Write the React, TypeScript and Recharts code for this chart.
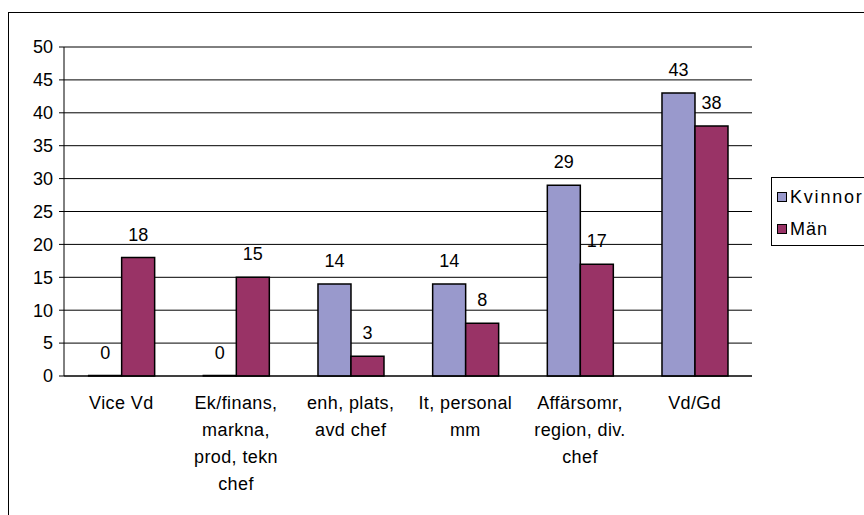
import { BarChart, Bar, XAxis, YAxis, CartesianGrid, LabelList } from 'recharts'

const categories = [
  'Vice Vd',
  'Ek/finans,\nmarkna,\nprod, tekn\nchef',
  'enh, plats,\navd chef',
  'It, personal\nmm',
  'Affärsomr,\nregion, div.\nchef',
  'Vd/Gd',
]
const kvinnor = [0, 0, 14, 14, 29, 43]
const man = [18, 15, 3, 8, 17, 38]
const yTicks = [0, 5, 10, 15, 20, 25, 30, 35, 40, 45, 50]
const seriesNames = ['Kvinnor', 'Män']
const COLORS = ['#9999cc', '#993366']

const data = categories.map((name, i) => ({ name, kvinnor: kvinnor[i], man: man[i] }))
const edgeTicks = categories.map((_, i) => i).concat(categories.length)

const FONT = '"Liberation Sans", Arial, sans-serif'
const FS = 18

const CategoryTick = ({ x, y, payload }: any) => {
  const lines = String(payload.value).split('\n')
  return (
    <text x={x} y={y} textAnchor="middle" fontFamily={FONT} fontSize={FS} fill="#000" letterSpacing={0.4}>
      {lines.map((l, i) => (
        <tspan key={i} x={x} dy={i === 0 ? 25 : 27}>{l}</tspan>
      ))}
    </text>
  )
}

// value label above the bar, also for zero-height bars
const ValueLabel = (props: any) => {
  const { x, y, width, height, value } = props
  if (value === undefined || value === null) return null
  const top = Math.min(Number(y), Number(y) + Number(height || 0))
  const yy = value === 0 ? top + Math.abs(Number(height || 0)) : top
  return (
    <text x={Number(x) + Number(width) / 2} y={yy - 17} textAnchor="middle" fontFamily={FONT} fontSize={FS} fill="#000">
      {value}
    </text>
  )
}

export default function App() {
  return (
    <div style={{ position: 'absolute', left: 0, top: 0, width: 864, height: 515, overflow: 'hidden', background: '#fff' }}>
      <div style={{ position: 'absolute', left: 8, top: 12, width: 900, height: 600, border: '1px solid #000', boxSizing: 'border-box' }} />
      <div style={{ position: 'absolute', left: 0, top: 0 }}>
        <BarChart
          width={864}
          height={515}
          data={data}
          margin={{ top: 47, right: 112, left: 0, bottom: 19 }}
          barCategoryGap="21.5%"
          barGap={0}
        >
          <CartesianGrid vertical={false} stroke="#000" strokeWidth={1} />
          <XAxis
            xAxisId="edge"
            type="number"
            domain={[0, categories.length]}
            ticks={edgeTicks}
            height={0}
            tick={false}
            axisLine={false}
            tickLine={{ stroke: '#000' }}
            tickSize={5}
          />
          <XAxis
            xAxisId="cat"
            dataKey="name"
            height={120}
            interval={0}
            tick={<CategoryTick />}
            tickLine={false}
            axisLine={{ stroke: '#000' }}
          />
          <YAxis
            domain={[0, 50]}
            ticks={yTicks}
            width={64}
            tickSize={5}
            tickMargin={6}
            interval={0}
            axisLine={{ stroke: '#000' }}
            tickLine={{ stroke: '#000' }}
            tick={{ fontSize: FS, fontFamily: FONT, fill: '#000' }}
          />
          <YAxis
            yAxisId="right"
            orientation="right"
            width={0}
            domain={[0, 50]}
            tick={false}
            tickLine={false}
            axisLine={{ stroke: '#808080' }}
          />
          <Bar xAxisId="cat" dataKey="kvinnor" name={seriesNames[0]} fill={COLORS[0]} stroke="#000" strokeWidth={1.5} minPointSize={0.5} isAnimationActive={false}>
            <LabelList dataKey="kvinnor" content={ValueLabel} />
          </Bar>
          <Bar xAxisId="cat" dataKey="man" name={seriesNames[1]} fill={COLORS[1]} stroke="#000" strokeWidth={1.5} isAnimationActive={false}>
            <LabelList dataKey="man" content={ValueLabel} />
          </Bar>
        </BarChart>
      </div>
      <div
        style={{
          position: 'absolute',
          left: 771,
          top: 177,
          width: 120,
          height: 69,
          border: '1px solid #000',
          boxSizing: 'border-box',
          fontFamily: FONT,
          fontSize: FS,
          padding: '3px 0 0 5px',
        }}
      >
        {seriesNames.map((n, i) => (
          <div key={n} style={{ display: 'flex', alignItems: 'center', height: 32, letterSpacing: i === 0 ? 1.8 : 1 }}>
            <span style={{ width: 8, height: 8, background: COLORS[i], border: '1px solid #000', marginRight: 3, flexShrink: 0 }} />
            <span>{n}</span>
          </div>
        ))}
      </div>
    </div>
  )
}
